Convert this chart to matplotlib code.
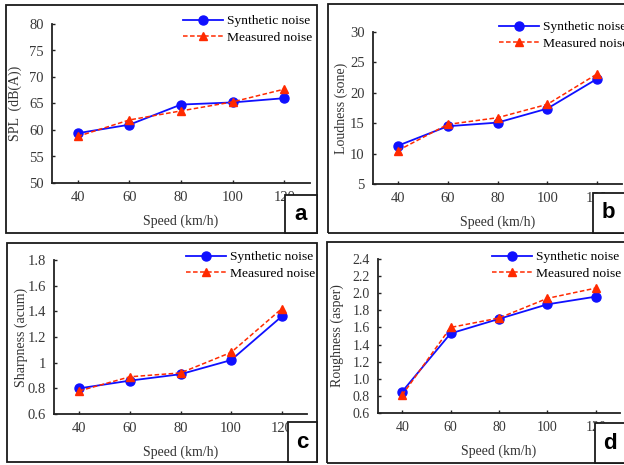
import matplotlib
matplotlib.use("Agg")
import matplotlib.pyplot as plt
from matplotlib.patches import Rectangle

speeds = ["40", "60", "80", "100", "120"]

spl_synth = [59.4, 61.0, 64.8, 65.2, 66.0]
spl_meas = [58.8, 61.9, 63.6, 65.3, 67.7]

loud_synth = [11.3, 14.5, 15.1, 17.4, 22.3]
loud_meas = [10.5, 14.8, 15.9, 18.1, 23.1]

sharp_synth = [0.80, 0.86, 0.91, 1.02, 1.36]
sharp_meas = [0.78, 0.89, 0.92, 1.08, 1.42]

rough_synth = [0.85, 1.53, 1.70, 1.87, 1.96]
rough_meas = [0.81, 1.60, 1.71, 1.94, 2.06]

W, H = 624, 465
fig = plt.figure(figsize=(W / 100, H / 100), dpi=100)
SERIF = "Liberation Serif"

def fx(px):
    return px / W

def fy(py):
    return 1 - py / H

def frame(x0, y0, x1, y1, z=1):
    r = Rectangle((fx(x0), fy(y1)), fx(x1) - fx(x0), fy(y0) - fy(y1),
                  transform=fig.transFigure, facecolor="white" if z > 5 else "none",
                  edgecolor="#1a1a1a", linewidth=1.3, zorder=z)
    fig.add_artist(r)

# panel frames
frame(6, 5, 317, 233)
frame(328, 4, 640, 233)
frame(7, 243, 317, 462)
frame(327, 242, 640, 463)

panels = [
    dict(px=(52, 310, 24, 183), ylim=(50, 80), yticks=[50, 55, 60, 65, 70, 75, 80],
         fmt=lambda v: f"{v:g}", ylabel="SPL  (dB(A))", s=spl_synth, m=spl_meas,
         leg=(183, 15), ylabx=15, letter="a", box=(285, 195, 317, 233), tfs=10.5),
    dict(px=(373, 622, 32, 184), ylim=(5, 30), yticks=[5, 10, 15, 20, 25, 30],
         fmt=lambda v: f"{v:g}", ylabel="Loudness (sone)", s=loud_synth, m=loud_meas,
         leg=(499, 21), ylabx=342, letter="b", box=(593, 193, 640, 233), tfs=10.5),
    dict(px=(54, 307, 260, 414), ylim=(0.6, 1.8), yticks=[0.6, 0.8, 1.0, 1.2, 1.4, 1.6, 1.8],
         fmt=lambda v: f"{v:g}", ylabel="Sharpness (acum)", s=sharp_synth, m=sharp_meas,
         leg=(186, 251), ylabx=22, letter="c", box=(288, 422, 317, 462), tfs=10.5),
    dict(px=(378, 620, 259, 413), ylim=(0.6, 2.4),
         yticks=[0.6, 0.8, 1.0, 1.2, 1.4, 1.6, 1.8, 2.0, 2.2, 2.4],
         fmt=lambda v: f"{v:.1f}", ylabel="Roughness (asper)", s=rough_synth, m=rough_meas,
         leg=(492, 251), ylabx=337, letter="d", box=(595, 423, 640, 463), tfs=10),
]

for p in panels:
    x0, x1, y0, y1 = p["px"]
    ax = fig.add_axes([fx(x0), fy(y1), fx(x1) - fx(x0), fy(y0) - fy(y1)])
    ax.set_facecolor("none")
    xs = range(len(speeds))
    ax.plot(xs, p["s"], color="#1010ff", lw=1.3, marker="o", ms=6.5,
            label="Synthetic noise", zorder=3)
    ax.plot(xs, p["m"], color="#ff2a00", lw=1.1, ls=(0, (3, 1.6)), marker="^", ms=6,
            label="Measured noise", zorder=4)
    ax.set_xlim(-0.5, len(speeds) - 0.5)
    ax.set_ylim(*p["ylim"])
    ax.set_xticks(list(xs))
    ax.set_xticklabels(speeds, fontfamily=SERIF, fontsize=p["tfs"], color="#383838")
    ax.set_yticks(p["yticks"])
    ax.set_yticklabels([p["fmt"](v) for v in p["yticks"]], fontfamily=SERIF,
                       fontsize=p["tfs"], color="#383838")
    ax.tick_params(direction="in", length=2.5, width=1, color="#222222", pad=6)
    for s in ("top", "right"):
        ax.spines[s].set_visible(False)
    for s in ("left", "bottom"):
        ax.spines[s].set_linewidth(1.3)
        ax.spines[s].set_color("#222222")
    ax.set_xlabel("Speed (km/h)", fontfamily=SERIF, fontsize=10, color="#333333", labelpad=7)
    ax.set_ylabel(p["ylabel"], fontfamily=SERIF, fontsize=10, color="#333333")
    ax.yaxis.set_label_coords(fx(p["ylabx"] + 6.5), 0, transform=fig.transFigure)
    ax.yaxis.label.set_y(fy((y0 + y1) / 2))
    lx, ly = p["leg"]
    ax.legend(loc="upper left", bbox_to_anchor=(fx(lx), fy(ly)),
              bbox_transform=fig.transFigure, frameon=False, borderpad=0,
              borderaxespad=0, handlelength=3.0, handletextpad=0.25,
              labelspacing=0.3, prop={"family": SERIF, "size": 9.7})
    bx0, by0, bx1, by1 = p["box"]
    frame(bx0, by0, bx1, by1, z=10)
    cx = (bx0 + bx1) / 2 if bx1 <= 624 else bx0 + 15
    fig.text(fx(cx), fy((by0 + by1) / 2), p["letter"], ha="center", va="center",
             fontsize=16, fontweight="bold", fontfamily="Liberation Sans", zorder=11)

fig.savefig("out.png", dpi=100)
